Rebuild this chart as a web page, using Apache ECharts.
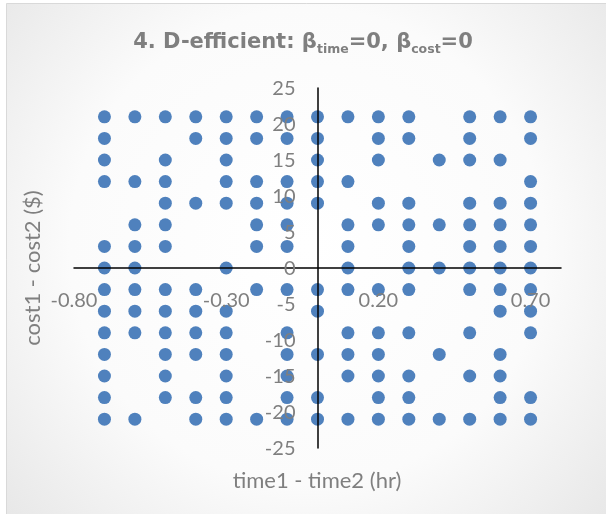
<!DOCTYPE html>
<html>
<head>
<meta charset="utf-8">
<script src="https://cdn.jsdelivr.net/npm/echarts@6/dist/echarts.min.js"></script>
<style>
  html, body { margin: 0; padding: 0; background: #fff; }
  #main { width: 606px; height: 514px; }
</style>
</head>
<body>
<div id="main"></div>
<script>
// cost difference levels (rows of the design), top to bottom
var costLevels = [21, 18, 15, 12, 9, 6, 3, 0, -3, -6, -9, -12, -15, -18, -21];
// time differences present on each cost row
var timesByCost = [
  [-0.7, -0.6, -0.5, -0.4, -0.3, -0.2, -0.1, 0, 0.1, 0.2, 0.3, 0.5, 0.6, 0.7],
  [-0.7, -0.4, -0.3, -0.2, -0.1, 0, 0.2, 0.3, 0.5, 0.7],
  [-0.7, -0.5, -0.3, 0, 0.2, 0.4, 0.5, 0.6],
  [-0.7, -0.6, -0.5, -0.3, -0.2, -0.1, 0, 0.1, 0.7],
  [-0.5, -0.4, -0.3, -0.2, -0.1, 0, 0.2, 0.3, 0.5, 0.6, 0.7],
  [-0.6, -0.5, -0.2, -0.1, 0.1, 0.2, 0.3, 0.4, 0.5, 0.6, 0.7],
  [-0.7, -0.6, -0.5, -0.2, -0.1, 0.1, 0.3, 0.5, 0.6, 0.7],
  [-0.7, -0.6, -0.3, 0.1, 0.3, 0.4, 0.5, 0.6, 0.7],
  [-0.7, -0.6, -0.5, -0.4, -0.2, -0.1, 0, 0.1, 0.2, 0.3, 0.5, 0.6, 0.7],
  [-0.7, -0.6, -0.5, -0.4, -0.3, 0, 0.6, 0.7],
  [-0.7, -0.6, -0.5, -0.4, -0.3, -0.1, 0.1, 0.2, 0.3, 0.5, 0.7],
  [-0.7, -0.5, -0.4, -0.3, -0.1, 0, 0.1, 0.2, 0.4, 0.6],
  [-0.7, -0.5, -0.3, -0.1, 0.1, 0.2, 0.3, 0.5, 0.6],
  [-0.7, -0.5, -0.4, -0.3, -0.1, 0, 0.2, 0.3, 0.6, 0.7],
  [-0.7, -0.6, -0.4, -0.3, -0.2, -0.1, 0, 0.1, 0.2, 0.3, 0.4, 0.5, 0.6, 0.7]
];
var xTickLabels = [-0.8, -0.3, 0.2, 0.7];
var yTickLabels = [25, 20, 15, 10, 5, 0, -5, -10, -15, -20, -25];

var points = [];
costLevels.forEach(function (c, i) {
  timesByCost[i].forEach(function (t) {
    points.push([t, c]);
  });
});

var dom = document.getElementById('main');
var myChart = echarts.init(dom, null, { renderer: 'canvas' });

var grey = '#7f7f7f';
var font = 'Lato, "Open Sans", sans-serif';
var titleFont = '"DejaVu Sans", sans-serif';

var option = {
  animation: false,
  title: {
    text: '{b|4. D-efficient: β}{s|time}{b|=0, β}{s|cost}{b|=0}',
    left: 'center',
    top: 24,
    textStyle: {
      rich: {
        b: { fontFamily: titleFont, fontSize: 21, fontWeight: 'bold', color: grey, lineHeight: 27 },
        s: { fontFamily: titleFont, fontSize: 12.5, fontWeight: 'bold', color: grey, lineHeight: 12, verticalAlign: 'bottom' }
      }
    }
  },
  grid: {
    left: 74,
    right: 45,
    top: 88,
    bottom: 66,
    containLabel: false,
    outerBoundsMode: 'none'
  },
  xAxis: {
    type: 'value',
    min: -0.8,
    max: 0.8,
    z: 5,
    axisLine: { onZero: true, lineStyle: { color: '#000', width: 1.5 } },
    axisTick: { show: false },
    splitLine: { show: false },
    axisLabel: { show: false }
  },
  yAxis: {
    type: 'value',
    min: -25,
    max: 25,
    interval: 5,
    z: 5,
    axisLine: { show: true, onZero: true, lineStyle: { color: '#000', width: 1.5 } },
    axisTick: { show: false },
    splitLine: { show: false },
    axisLabel: { show: false }
  },
  series: [
    {
      type: 'scatter',
      z: 1,
      symbolSize: 13,
      itemStyle: { color: '#4F81BD', opacity: 1 },
      data: points
    }
  ]
};

myChart.setOption(option);

// tick labels sit next to the axis lines that cross at the origin
var origin = myChart.convertToPixel({ gridIndex: 0 }, [0, 0]);
var graphics = [
  {
    type: 'rect',
    z: -10,
    silent: true,
    shape: { x: 6.5, y: 3.5, width: 640, height: 540 },
    style: {
      fill: new echarts.graphic.RadialGradient(0.47, 0.45, 0.8, [
        { offset: 0, color: '#ffffff' },
        { offset: 0.55, color: '#fbfbfb' },
        { offset: 1, color: '#e4e4e4' }
      ]),
      stroke: '#d9d9d9',
      lineWidth: 1
    }
  },
  {
    type: 'text',
    x: 317,
    y: 481,
    style: { text: 'time1 - time2 (hr)', fill: grey, font: '22px ' + font, align: 'center', verticalAlign: 'middle' }
  },
  {
    type: 'text',
    x: 33,
    y: 268,
    rotation: Math.PI / 2,
    style: { text: 'cost1 - cost2 ($)', fill: grey, font: '22px ' + font, align: 'center', verticalAlign: 'middle' }
  }
];
yTickLabels.forEach(function (v) {
  var p = myChart.convertToPixel({ gridIndex: 0 }, [0, v]);
  graphics.push({
    type: 'text', z: 10, silent: true,
    x: origin[0] - 22, y: p[1] + 1,
    style: { text: String(v), fill: grey, font: '20px ' + font, align: 'right', verticalAlign: 'middle' }
  });
});
xTickLabels.forEach(function (v) {
  var p = myChart.convertToPixel({ gridIndex: 0 }, [v, 0]);
  graphics.push({
    type: 'text', z: 10, silent: true,
    x: p[0], y: origin[1] + 33,
    style: { text: v.toFixed(2), fill: grey, font: '20px ' + font, align: 'center', verticalAlign: 'middle' }
  });
});
myChart.setOption({ graphic: graphics });

window.addEventListener('resize', myChart.resize);
</script>
</body>
</html>
